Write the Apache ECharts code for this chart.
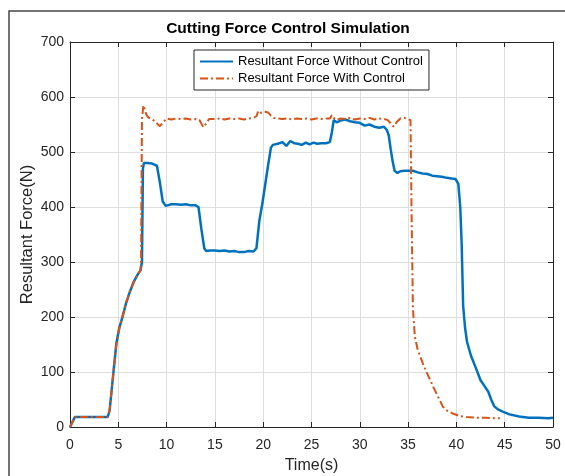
<!DOCTYPE html>
<html>
<head>
<meta charset="utf-8">
<script src="https://cdn.jsdelivr.net/npm/echarts@6/dist/echarts.min.js"></script>
<style>
html,body{margin:0;padding:0;background:#fff;}
#c{width:565px;height:476px;}
</style>
</head>
<body>
<div id="c"></div>
<script>
var chartTitle = 'Cutting Force Control Simulation';
var xName = 'Time(s)';
var yName = 'Resultant Force(N)';
var seriesNames = ['Resultant Force Without Control', 'Resultant Force With Control'];

var timeWithout = [0,0.5,1,2,3,3.9,4.1,4.3,4.5,4.8,5.1,5.4,5.8,6.2,6.6,7.0,7.3,7.45,7.55,7.65,8.0,8.5,9.0,9.3,9.6,9.9,10.5,11,11.5,12,12.5,13,13.3,13.6,13.9,14.1,14.5,15,15.5,16,16.5,17,17.5,18,18.5,19,19.3,19.6,19.9,20.2,20.5,20.8,21.0,21.5,22,22.4,22.8,23.2,23.6,24,24.4,24.8,25.2,25.6,26,26.5,26.9,27.1,27.3,27.6,28,28.5,29,29.5,30,30.5,31,31.5,32,32.5,32.8,33.0,33.2,33.4,33.6,33.9,34.2,34.6,35,35.5,36,36.5,37,37.5,38,38.5,39,39.5,39.9,40.2,40.4,40.55,40.7,40.9,41.1,41.5,42,42.5,43,43.3,43.6,43.9,44.3,44.8,45.5,46.5,47.5,48.5,49.5,50];
var forceWithout = [0,18,18,18,18,18,30,65,100,152,180,198,225,246,264,277,285,300,470,480,480,479,475,445,410,402,405,405,404,405,403,403,400,360,325,320,321,321,320,321,319,320,318,318,320,319,325,375,405,440,475,508,513,515,518,511,520,516,515,513,517,514,517,515,516,516,518,535,558,554,557,559,556,554,553,548,550,546,544,546,540,530,505,483,466,462,465,466,466,466,463,461,460,457,456,455,453,452,451,442,400,330,220,180,155,130,108,85,72,64,50,38,32,28,23,19,17,17,16,17];

var timeWith = [0,0.5,1,2,3,3.9,4.1,4.3,4.5,4.8,5.1,5.4,5.8,6.2,6.6,7.0,7.3,7.35,7.45,7.6,7.7,7.9,8.1,8.4,8.7,9.0,9.3,9.6,10.0,10.5,11,11.5,12,12.5,13,13.4,13.8,14.1,14.4,15,15.5,16,16.5,17,17.5,18,18.5,19,19.3,19.5,19.8,20.2,20.5,20.8,21.1,21.5,22,22.5,23,23.5,24,24.5,25,25.5,26,26.5,26.9,27.1,27.3,27.6,28,28.5,29,29.5,30,30.5,31,31.5,32,32.5,32.9,33.2,33.5,33.8,34.2,34.6,35.0,35.25,35.35,35.5,35.7,36.0,36.2,36.6,36.9,37.3,37.6,38.1,38.6,39.1,39.7,40.3,41,42,43,44,44.5];
var forceWith = [0,18,18,18,18,18,30,65,100,152,180,198,225,246,264,277,285,300,560,585,583,568,563,560,557,552,547,553,561,559,561,560,561,559,560,558,545,552,560,560,561,559,561,560,561,559,561,562,565,575,571,573,572,566,562,561,560,561,559,561,560,561,559,561,560,561,561,567,562,558,561,560,562,559,561,560,562,559,561,560,558,552,546,554,561,562,560,558,400,215,164,140,131,112,100,85,73,55,37,29,24,20,18,17,17,16,16];

var xTicks = {min: 0, max: 50, interval: 5};
var yTicks = {min: 0, max: 700, interval: 100};

function pairs(xs, ys) {
  var out = [];
  for (var i = 0; i < xs.length; i++) out.push([xs[i], ys[i]]);
  return out;
}

var axisColor = '#262626';
var font = '"Liberation Sans", Arial, Helvetica, sans-serif';

var chart = echarts.init(document.getElementById('c'), null, {renderer: 'canvas'});
chart.setOption({
  animation: false,
  backgroundColor: '#ffffff',
  textStyle: {fontFamily: font},
  graphic: [
    {type: 'rect', shape: {x: 9, y: 11, width: 700, height: 600}, style: {fill: 'none', stroke: '#454545', lineWidth: 1.5}, z: -1},
    {type: 'text', x: 288, y: 29, style: {text: chartTitle, fill: '#000', font: 'bold 15.5px ' + font, textAlign: 'center', textVerticalAlign: 'middle'}}
  ],
  grid: {left: 70, right: 12, top: 42, bottom: 49, containLabel: false, outerBoundsMode: 'none'},
  legend: {
    orient: 'vertical',
    left: 194, top: 50,
    padding: [5, 6, 5, 5],
    itemWidth: 33, itemHeight: 14, itemGap: 4,
    backgroundColor: '#fff',
    borderColor: axisColor, borderWidth: 1,
    itemStyle: {opacity: 0},
    textStyle: {fontSize: 13, color: '#000', fontFamily: font},
    data: seriesNames
  },
  xAxis: [
    {type: 'value', min: xTicks.min, max: xTicks.max, interval: xTicks.interval,
     name: xName, nameLocation: 'middle', nameGap: 31, nameMoveOverlap: false,
     nameTextStyle: {fontSize: 16, color: axisColor, fontFamily: font},
     axisLine: {lineStyle: {color: axisColor, width: 1}},
     axisTick: {inside: true, length: 5, lineStyle: {color: axisColor}},
     axisLabel: {fontSize: 14, color: axisColor, margin: 11, fontFamily: font},
     splitLine: {show: true, lineStyle: {color: '#dedede', width: 1}}},
    {type: 'value', position: 'top', min: xTicks.min, max: xTicks.max, interval: xTicks.interval,
     axisLine: {show: true, onZero: false, lineStyle: {color: axisColor, width: 1}},
     axisTick: {show: true, inside: true, length: 5, lineStyle: {color: axisColor}},
     axisLabel: {show: false}, splitLine: {show: false}}
  ],
  yAxis: [
    {type: 'value', min: yTicks.min, max: yTicks.max, interval: yTicks.interval,
     name: yName, nameLocation: 'middle', nameGap: 34, nameMoveOverlap: false,
     nameTextStyle: {fontSize: 16.5, color: axisColor, fontFamily: font},
     axisLine: {show: true, lineStyle: {color: axisColor, width: 1}},
     axisTick: {show: true, inside: true, length: 5, lineStyle: {color: axisColor}},
     axisLabel: {fontSize: 14, color: axisColor, margin: 6, fontFamily: font},
     splitLine: {show: true, lineStyle: {color: '#dedede', width: 1}}},
    {type: 'value', position: 'right', min: yTicks.min, max: yTicks.max, interval: yTicks.interval,
     axisLine: {show: true, onZero: false, lineStyle: {color: axisColor, width: 1}},
     axisTick: {show: true, inside: true, length: 5, lineStyle: {color: axisColor}},
     axisLabel: {show: false}, splitLine: {show: false}}
  ],
  series: [
    {name: seriesNames[0], type: 'line', xAxisIndex: 0, yAxisIndex: 0, showSymbol: false, symbol: 'none',
     data: pairs(timeWithout, forceWithout), color: '#0072BD',
     lineStyle: {color: '#0072BD', width: 2.5}},
    {name: seriesNames[1], type: 'line', xAxisIndex: 0, yAxisIndex: 0, showSymbol: false, symbol: 'none',
     data: pairs(timeWith, forceWith), color: '#D95319',
     lineStyle: {color: '#D95319', width: 2, type: [8, 3, 2, 3]}}
  ]
});
</script>
</body>
</html>
